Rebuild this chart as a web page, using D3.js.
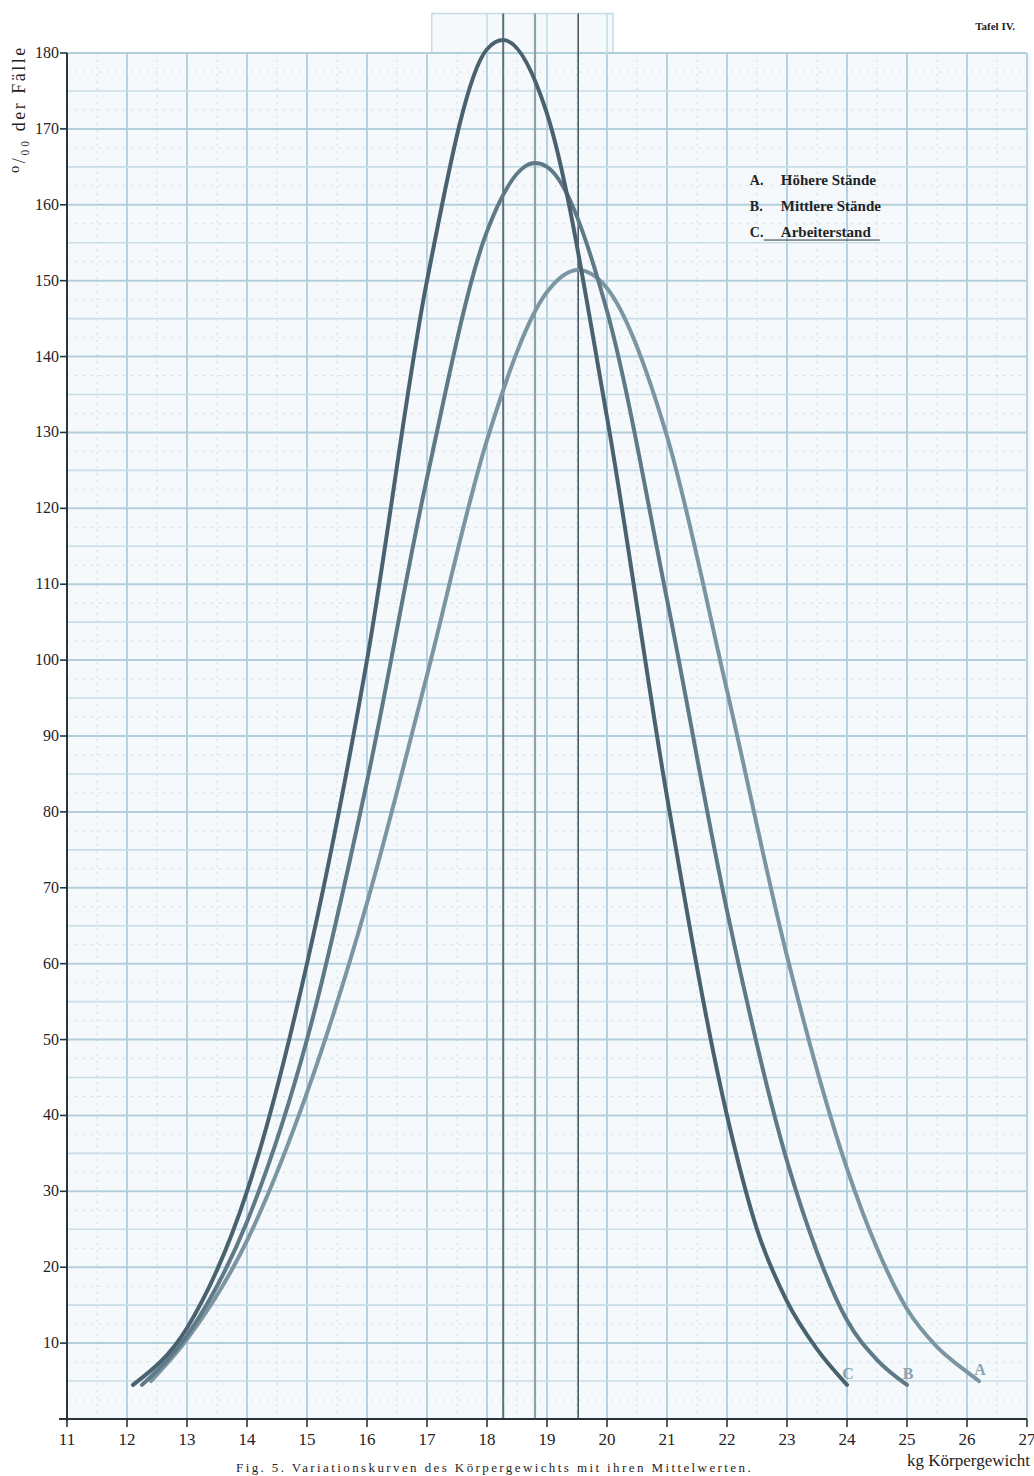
<!DOCTYPE html>
<html>
<head>
<meta charset="utf-8">
<script src="https://cdn.jsdelivr.net/npm/d3@7"></script>
<style>
  body { margin: 0; background: #fff; }
  svg { display: block; }
  text { font-family: "Liberation Serif", "DejaVu Serif", serif; fill: #1e2326; }
</style>
</head>
<body>
<svg id="chart" width="1034" height="1476"></svg>
<script>
// kg ticks and per-mille ticks
var kgTicks = d3.range(11, 28);
var yTicks = d3.range(10, 190, 10);

// legend
var seriesKeys = ["A", "B", "C"];
var seriesLabels = ["Höhere Stände", "Mittlere Stände", "Arbeiterstand"];

// mean weight of each class (vertical lines)
var meanKg = [19.52, 18.8, 18.27];

// A. Höhere Stände
var kgA  = [12.4, 13,   14,   15, 16, 17, 18,  19,    19.52, 20,  21,    22, 23, 24, 24.5, 25,   25.5, 26,  26.2];
var valA = [5,    10.5, 23.5, 43, 68, 98, 129, 148.5, 151.4, 149, 129.5, 96, 61, 33, 22.5, 14.5, 9.5,  6.2, 5];

// B. Mittlere Stände
var kgB  = [12.25, 13, 14, 15, 16, 17,  18,    18.8,  19,  20,  21,  22, 23, 23.5, 24, 24.5, 25];
var valB = [4.5,   11, 26, 50, 84, 124, 156.5, 165.5, 165, 146, 108, 67, 34, 22,   13, 7.8,  4.5];

// C. Arbeiterstand
var kgC  = [12.1, 13, 14, 15, 16,  17,  18,    18.27, 19,  20,  21, 22, 22.5, 23,   23.5, 24];
var valC = [4.5,  12, 30, 60, 100, 150, 180.5, 181.7, 172, 132, 82, 40, 25,   15.5, 9.2,  4.5];

var svg = d3.select("#chart");

var x = d3.scaleLinear().domain([11, 27]).range([67, 1027]);
var y = d3.scaleLinear().domain([0, 180]).range([1419, 53]);

// paper background
svg.append("rect")
    .attr("x", x(11)).attr("y", y(180))
    .attr("width", x(27) - x(11) + 4).attr("height", y(0) - y(180))
    .attr("fill", "#f5f9fb");

// small paper extension above the top edge
svg.append("rect")
    .attr("x", x(17.08)).attr("y", y(185.2))
    .attr("width", x(20.1) - x(17.08)).attr("height", y(180) - y(185.2))
    .attr("fill", "#f5f9fb").attr("stroke", "#c3dbe6").attr("stroke-width", 1.5);

var grid = svg.append("g");

// faint dotted subdivisions
grid.selectAll(".vminor")
    .data(d3.range(11.5, 27, 1))
  .enter().append("line")
    .attr("x1", d => x(d)).attr("x2", d => x(d))
    .attr("y1", y(180)).attr("y2", y(0))
    .attr("stroke", "#c9dde6").attr("stroke-width", 1)
    .attr("stroke-dasharray", "2,5");

grid.selectAll(".hminor")
    .data(d3.range(2.5, 180, 5))
  .enter().append("line")
    .attr("x1", x(11)).attr("x2", x(27))
    .attr("y1", d => y(d)).attr("y2", d => y(d))
    .attr("stroke", "#c9dde6").attr("stroke-width", 1)
    .attr("stroke-dasharray", "2,6");

// main grid
grid.selectAll(".vmajor")
    .data(kgTicks.slice(1))
  .enter().append("line")
    .attr("x1", d => x(d)).attr("x2", d => x(d))
    .attr("y1", y(180)).attr("y2", y(0))
    .attr("stroke", "#b6d2df").attr("stroke-width", 2);

grid.selectAll(".hmajor")
    .data(d3.range(5, 185, 5))
  .enter().append("line")
    .attr("x1", x(11)).attr("x2", x(27))
    .attr("y1", d => y(d)).attr("y2", d => y(d))
    .attr("stroke", d => d % 10 == 0 ? "#b3cfdc" : "#c8dde7")
    .attr("stroke-width", d => d % 10 == 0 ? 2 : 1.6);

// grid lines of the extension
grid.selectAll(".vtop")
    .data([18, 19, 20])
  .enter().append("line")
    .attr("x1", d => x(d)).attr("x2", d => x(d))
    .attr("y1", y(185.2)).attr("y2", y(180))
    .attr("stroke", "#c3dbe6").attr("stroke-width", 1.5);

// vertical lines at the means
var meanColor = ["#4b5b65", "#8ea2ac", "#5c6e78"];
var meanWidth = [1.6, 2.2, 2];
svg.selectAll(".mean")
    .data(meanKg)
  .enter().append("line")
    .attr("class", "mean")
    .attr("x1", d => x(d)).attr("x2", d => x(d))
    .attr("y1", y(185.2)).attr("y2", y(0))
    .attr("stroke", (d, i) => meanColor[i])
    .attr("stroke-width", (d, i) => meanWidth[i]);

// axes
svg.append("line")
    .attr("x1", x(11)).attr("x2", x(11))
    .attr("y1", y(180)).attr("y2", y(0) + 2)
    .attr("stroke", "#2c3438").attr("stroke-width", 2);

svg.append("line")
    .attr("x1", x(11) - 8).attr("x2", x(27))
    .attr("y1", y(0)).attr("y2", y(0))
    .attr("stroke", "#2c3438").attr("stroke-width", 2.2);

svg.selectAll(".ytick")
    .data(yTicks)
  .enter().append("line")
    .attr("x1", x(11) - 7).attr("x2", x(11))
    .attr("y1", d => y(d)).attr("y2", d => y(d))
    .attr("stroke", "#2c3438").attr("stroke-width", 1.6);

svg.selectAll(".ylabel")
    .data(yTicks)
  .enter().append("text")
    .attr("x", x(11) - 8).attr("y", d => y(d) + 5)
    .attr("text-anchor", "end")
    .style("font-size", "16px")
    .text(d => d);

svg.selectAll(".xtick")
    .data(kgTicks)
  .enter().append("line")
    .attr("x1", d => x(d)).attr("x2", d => x(d))
    .attr("y1", y(0)).attr("y2", y(0) + 8)
    .attr("stroke", "#2c3438").attr("stroke-width", 1.6);

svg.selectAll(".xlabel")
    .data(kgTicks)
  .enter().append("text")
    .attr("x", d => x(d)).attr("y", y(0) + 26)
    .attr("text-anchor", "middle")
    .style("font-size", "17px")
    .text(d => d);

svg.append("text")
    .attr("x", x(27) + 3).attr("y", y(0) + 47)
    .attr("text-anchor", "end")
    .style("font-size", "17px")
    .text("kg Körpergewicht");

svg.append("text")
    .attr("transform", "translate(25," + y(172.6) + ") rotate(-90)")
    .attr("text-anchor", "middle")
    .style("font-size", "18px")
    .style("letter-spacing", "2.5px")
    .text("⁰/₀₀ der Fälle");

svg.append("text")
    .attr("x", 1015).attr("y", 30)
    .attr("text-anchor", "end")
    .style("font-size", "11px").style("font-weight", "bold")
    .text("Tafel IV.");

svg.append("text")
    .attr("x", 236).attr("y", 1472)
    .style("font-size", "13px")
    .style("letter-spacing", "2.4px")
    .text("Fig. 5. Variationskurven des Körpergewichts mit ihren Mittelwerten.");

// curves
var series = [
  {key: "A", kg: kgA, val: valA, color: "#7b95a2"},
  {key: "B", kg: kgB, val: valB, color: "#5f7987"},
  {key: "C", kg: kgC, val: valC, color: "#4a6270"}
];

var line = d3.line()
    .x(d => x(d[0]))
    .y(d => y(d[1]))
    .curve(d3.curveMonotoneX);

svg.selectAll(".curve")
    .data(series)
  .enter().append("path")
    .attr("class", "curve")
    .attr("d", s => line(s.kg.map((k, i) => [k, s.val[i]])))
    .attr("fill", "none")
    .attr("stroke", s => s.color)
    .attr("stroke-width", 4)
    .attr("stroke-linecap", "round");

// letters at the right ends
svg.selectAll(".endlabel")
    .data(series)
  .enter().append("text")
    .attr("x", s => x(s.kg[s.kg.length - 1]) + 1)
    .attr("y", s => y(s.val[s.val.length - 1]) - 6)
    .attr("text-anchor", "middle")
    .style("font-size", "16px").style("font-weight", "bold")
    .style("fill", "#8ba4b0")
    .text(s => s.key);

// legend
var legend = svg.append("g")
    .attr("transform", "translate(" + x(22.38) + "," + y(162.6) + ")");

legend.selectAll("text.key")
    .data(seriesKeys)
  .enter().append("text")
    .attr("x", 0).attr("y", (d, i) => i * 26)
    .style("font-size", "14px").style("font-weight", "bold")
    .text(d => d + ".");

legend.selectAll("text.lab")
    .data(seriesLabels)
  .enter().append("text")
    .attr("x", 31).attr("y", (d, i) => i * 26)
    .style("font-size", "15px").style("font-weight", "bold")
    .text(d => d);

legend.append("line")
    .attr("x1", 14).attr("x2", 130)
    .attr("y1", 55).attr("y2", 55)
    .attr("stroke", "#2c3438").attr("stroke-width", 1);
</script>
</body>
</html>
